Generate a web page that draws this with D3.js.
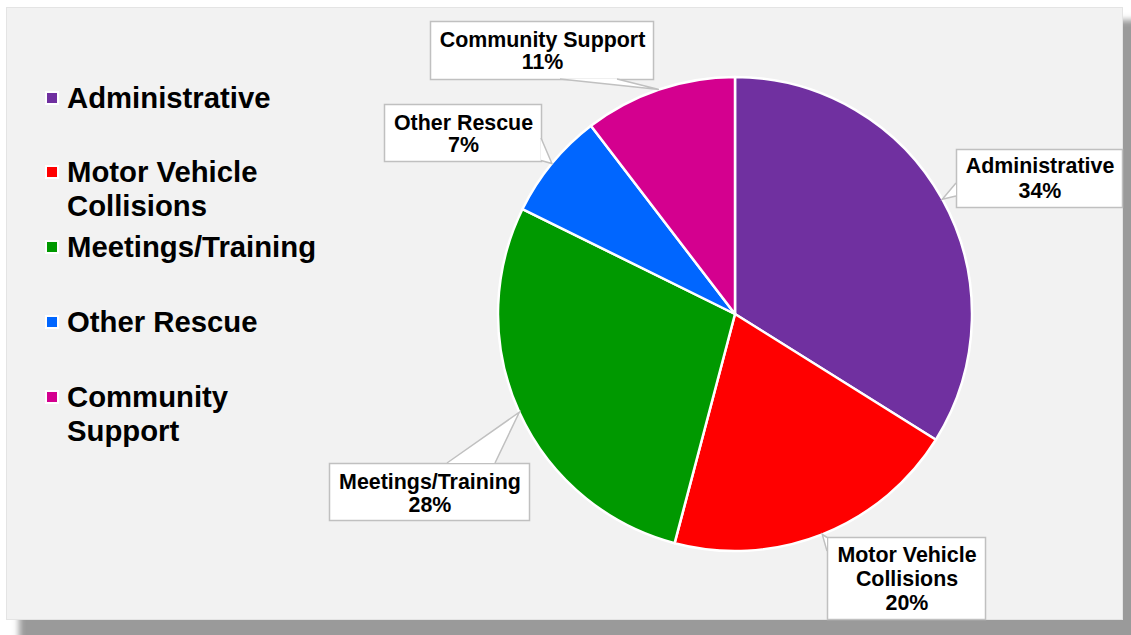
<!DOCTYPE html>
<html>
<head>
<meta charset="utf-8">
<script src="https://cdn.jsdelivr.net/npm/d3@7"></script>
<style>
  html, body { margin: 0; padding: 0; background: #ffffff; }
  svg { display: block; font-family: "Liberation Sans", Arial, sans-serif; }
</style>
</head>
<body>
<svg id="chart" width="1131" height="635"></svg>
<script>
// ---- data ----
const categories = ["Administrative", "Motor Vehicle Collisions", "Meetings/Training", "Other Rescue", "Community Support"];
const values = [33.9, 20.2, 28.2, 7.3, 10.4];
const pctLabels = ["34%", "20%", "28%", "7%", "11%"];
const colors = ["#7030a0", "#ff0000", "#009900", "#0066ff", "#d4008f"];
const legendLines = [["Administrative"], ["Motor Vehicle", "Collisions"], ["Meetings/Training"], ["Other Rescue"], ["Community", "Support"]];
const calloutLines = [["Administrative"], ["Motor Vehicle", "Collisions"], ["Meetings/Training"], ["Other Rescue"], ["Community Support"]];

// ---- layout ----
const W = 1131, H = 635;
const svg = d3.select("#chart");
const defs = svg.append("defs");
const f = defs.append("filter").attr("id", "sh").attr("x", "-5%").attr("y", "-5%").attr("width", "110%").attr("height", "110%");
f.append("feGaussianBlur").attr("stdDeviation", 3);

// shadow + panel
svg.append("rect").attr("x", 19).attr("y", 20).attr("width", 1130).attr("height", 630)
  .attr("fill", "#9a9a9a").attr("filter", "url(#sh)");
svg.append("rect").attr("x", 6.5).attr("y", 7.5).attr("width", 1116).attr("height", 612)
  .attr("fill", "#f2f2f2").attr("stroke", "#e4e4e4").attr("stroke-width", 1);

// pie
const cx = 735, cy = 314, R = 237;
const pie = d3.pie().sort(null).value(d => d)(values);
const arc = d3.arc().innerRadius(0).outerRadius(R);
const edge = d3.arc().innerRadius(R).outerRadius(R);
const g = svg.append("g").attr("transform", `translate(${cx},${cy})`);
g.selectAll("path.slice").data(pie).join("path").attr("class", "slice")
  .attr("d", arc).attr("fill", (d, i) => colors[i])
  .attr("stroke", "#ffffff").attr("stroke-width", 2.5).attr("stroke-linejoin", "round");

// callouts: box layout (x, y, w, h) and wedge base points
const boxes = [
  { x: 956, y: 149, w: 166, h: 58, base: [[956, 183], [956, 196]], lh: 25, firstBase: 173 },
  { x: 827, y: 537, w: 158, h: 82, base: [[827, 537.5], [827, 551]], lh: 24, firstBase: 562 },
  { x: 329, y: 463, w: 200, h: 57, base: [[447, 463], [495, 463]], lh: 22.5, firstBase: 489 },
  { x: 384, y: 104, w: 157, h: 57, base: [[541, 138], [541, 160.5]], lh: 22.5, firstBase: 129.5 },
  { x: 430, y: 21, w: 223, h: 58, base: [[560, 79], [617, 79]], lh: 22.5, firstBase: 46.5 }
];
const stroke = "#c0c0c0";
pie.forEach((d, i) => {
  const b = boxes[i];
  const c = edge.centroid(d);
  const tip = [cx + c[0], cy + c[1]];
  const cg = svg.append("g");
  cg.append("rect").attr("x", b.x + 0.5).attr("y", b.y + 0.5).attr("width", b.w).attr("height", b.h)
    .attr("fill", "#ffffff").attr("stroke", stroke).attr("stroke-width", 1.5);
  cg.append("path").attr("d", d3.line()([b.base[0], tip, b.base[1]]) + "Z")
    .attr("fill", "#ffffff").attr("stroke", "none");
  cg.append("path").attr("d", d3.line()([b.base[0], tip, b.base[1]]))
    .attr("fill", "none").attr("stroke", stroke).attr("stroke-width", 1.5).attr("stroke-linejoin", "miter");
  const lines = calloutLines[i].concat([pctLabels[i]]);
  const tx = b.x + b.w / 2 + 1;
  lines.forEach((t, k) => {
    cg.append("text").attr("x", tx).attr("y", b.firstBase + k * b.lh)
      .attr("text-anchor", "middle").attr("font-size", 21.4).attr("font-weight", "bold")
      .attr("fill", "#000").text(t);
  });
});

// legend
const legendY = [108, 182, 257, 332, 407];
const lg = svg.append("g");
categories.forEach((c, i) => {
  lg.append("rect").attr("x", 46).attr("y", legendY[i] - 16).attr("width", 12).attr("height", 12)
    .attr("fill", colors[i]).attr("stroke", "#ffffff").attr("stroke-width", 2);
  legendLines[i].forEach((t, k) => {
    lg.append("text").attr("x", 67).attr("y", legendY[i] + k * 33.5)
      .attr("font-size", 29.3).attr("font-weight", "bold").attr("fill", "#000").text(t);
  });
});
</script>
</body>
</html>
